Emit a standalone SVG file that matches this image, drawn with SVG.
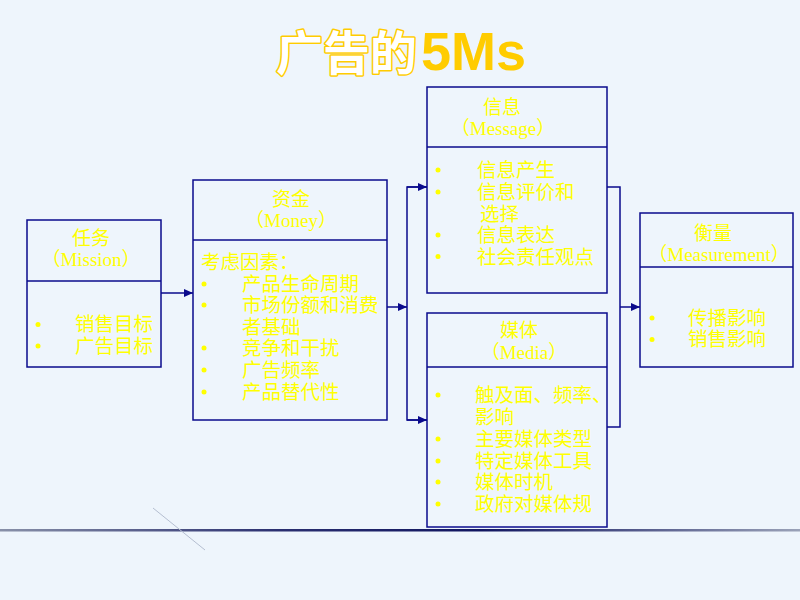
<svg xmlns="http://www.w3.org/2000/svg" width="800" height="600" viewBox="0 0 800 600">
<style>
.box{fill:none;stroke:#0A0A8C;stroke-width:1.5}
.conn{fill:none;stroke:#0A0A8C;stroke-width:1.5}
.t{font-family:"Liberation Sans","Noto Sans CJK SC",sans-serif;font-size:19.5px;fill:#FFFF00}
.h{font-family:"Liberation Serif","Noto Sans CJK SC",serif;font-size:19px;fill:#FFFF00;text-anchor:middle}
.b{fill:#FFFF00}
</style>
<defs>
<marker id="arr" markerWidth="10" markerHeight="10" refX="9" refY="5" orient="auto" markerUnits="userSpaceOnUse">
<path d="M0,1 L9,5 L0,9 Z" fill="#0A0A8C"/>
</marker>
<linearGradient id="bl" gradientUnits="userSpaceOnUse" x1="0" y1="0" x2="800" y2="0">
<stop offset="0" stop-color="#8890A8"/>
<stop offset="0.35" stop-color="#2A2F70"/>
<stop offset="0.6" stop-color="#101560"/>
<stop offset="1" stop-color="#9AA2B8"/>
</linearGradient>
</defs>
<rect width="800" height="600" fill="#EEF5FC"/>

<g id="title">
<text x="276" y="70" font-family="'Noto Sans CJK SC',sans-serif" font-size="47" font-weight="bold" fill="#FFFFFF" stroke="#FFCC00" stroke-width="3" stroke-linejoin="round" paint-order="stroke">广告的</text>
<text x="421" y="70" font-family="'Liberation Sans',Arial,sans-serif" font-size="54" font-weight="bold" fill="#FFCC00">5Ms</text>
</g>

<g id="connectors">
<line class="conn" x1="161" y1="293" x2="193" y2="293" marker-end="url(#arr)"/>
<line class="conn" x1="387" y1="307" x2="407" y2="307" marker-end="url(#arr)"/>
<polyline class="conn" points="427,187 407,187 407,420 427,420"/>
<line class="conn" x1="407" y1="187" x2="427" y2="187" marker-end="url(#arr)"/>
<line class="conn" x1="407" y1="420" x2="427" y2="420" marker-end="url(#arr)"/>
<polyline class="conn" points="607,187 620,187 620,427 607,427"/>
<line class="conn" x1="620" y1="307" x2="640" y2="307" marker-end="url(#arr)"/>
</g>

<g id="mission">
<rect class="box" x="27" y="220" width="134" height="147"/>
<line class="box" x1="27" y1="281" x2="161" y2="281"/>
<text class="h" x="91" y="245">任务<tspan x="91" y="266">（Mission）</tspan></text>
<circle class="b" cx="38" cy="324.5" r="2.5"/>
<circle class="b" cx="38" cy="346" r="2.5"/>
<text class="t" x="75" y="331">销售目标<tspan x="75" y="352.5">广告目标</tspan></text>
</g>

<g id="money">
<rect class="box" x="193" y="180" width="194" height="240"/>
<line class="box" x1="193" y1="240" x2="387" y2="240"/>
<text class="h" x="291" y="206">资金<tspan x="291" y="227">（Money）</tspan></text>
<circle class="b" cx="204" cy="284" r="2.5"/>
<circle class="b" cx="204" cy="305" r="2.5"/>
<circle class="b" cx="204" cy="348" r="2.5"/>
<circle class="b" cx="204" cy="370" r="2.5"/>
<circle class="b" cx="204" cy="392" r="2.5"/>
<text class="t" x="201" y="269">考虑因素：<tspan x="242" y="290.5">产品生命周期</tspan><tspan x="242" y="312">市场份额和消费</tspan><tspan x="242" y="333.5">者基础</tspan><tspan x="242" y="355">竞争和干扰</tspan><tspan x="242" y="377">广告频率</tspan><tspan x="242" y="398.5">产品替代性</tspan></text>
</g>

<g id="message">
<rect class="box" x="427" y="87" width="180" height="206"/>
<line class="box" x1="427" y1="147" x2="607" y2="147"/>
<text class="h" x="502" y="114">信息<tspan x="503" y="135">（Message）</tspan></text>
<circle class="b" cx="438" cy="170" r="2.5"/>
<circle class="b" cx="438" cy="192" r="2.5"/>
<circle class="b" cx="438" cy="235" r="2.5"/>
<circle class="b" cx="438" cy="256.5" r="2.5"/>
<text class="t" x="477" y="177">信息产生<tspan x="477" y="199">信息评价和</tspan><tspan x="480" y="220.5">选择</tspan><tspan x="477" y="242">信息表达</tspan><tspan x="477" y="263.5">社会责任观点</tspan></text>
</g>

<g id="media">
<rect class="box" x="427" y="313" width="180" height="214"/>
<line class="box" x1="427" y1="367" x2="607" y2="367"/>
<text class="h" x="519" y="337">媒体<tspan x="524" y="359">（Media）</tspan></text>
<circle class="b" cx="438" cy="395" r="2.5"/>
<circle class="b" cx="438" cy="439" r="2.5"/>
<circle class="b" cx="438" cy="461" r="2.5"/>
<circle class="b" cx="438" cy="482" r="2.5"/>
<circle class="b" cx="438" cy="504" r="2.5"/>
<text class="t" x="475" y="402">触及面、频率、<tspan x="475" y="424">影响</tspan><tspan x="475" y="446">主要媒体类型</tspan><tspan x="475" y="467.5">特定媒体工具</tspan><tspan x="475" y="489">媒体时机</tspan><tspan x="475" y="511">政府对媒体规</tspan></text>
</g>

<g id="measurement">
<rect class="box" x="640" y="213" width="153" height="154"/>
<line class="box" x1="640" y1="267" x2="793" y2="267"/>
<text class="h" x="713" y="240">衡量<tspan x="719" y="261">（Measurement）</tspan></text>
<circle class="b" cx="652" cy="318" r="2.5"/>
<circle class="b" cx="652" cy="339.5" r="2.5"/>
<text class="t" x="688" y="324.5">传播影响<tspan x="688" y="346">销售影响</tspan></text>
</g>

<g id="decor">
<rect x="0" y="529" width="800" height="2.5" fill="url(#bl)"/>
<line x1="153" y1="508" x2="205" y2="550" stroke="#B4BED0" stroke-width="1"/>
</g>
</svg>
